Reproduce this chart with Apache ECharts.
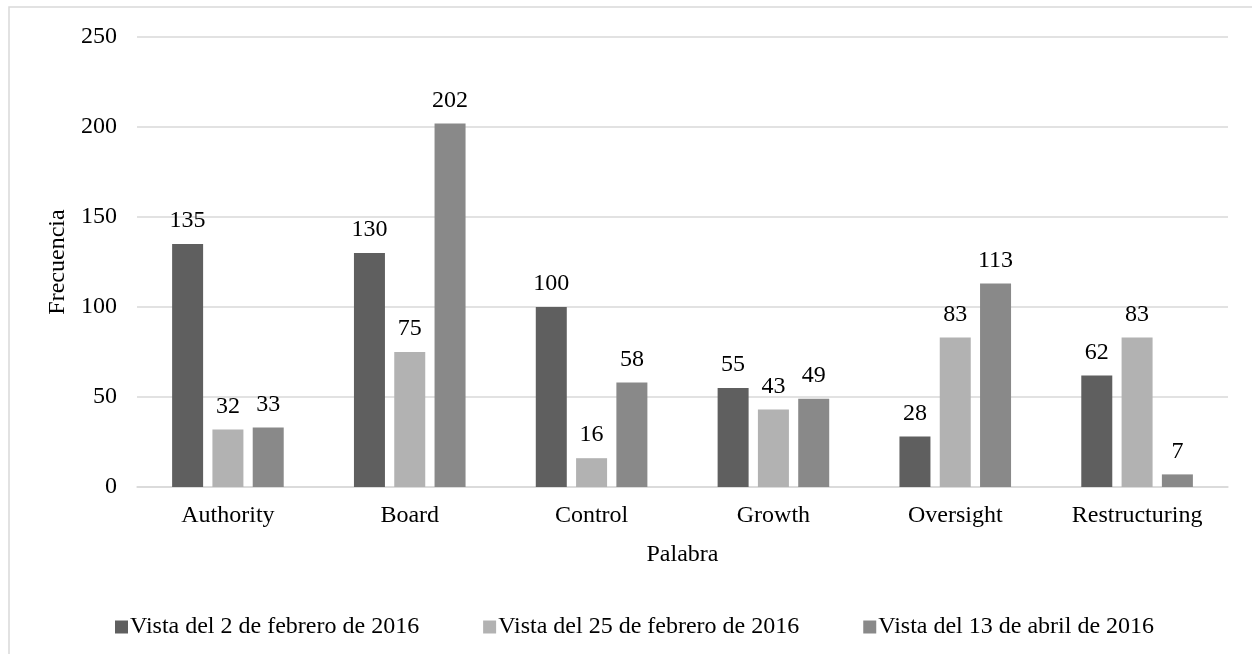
<!DOCTYPE html>
<html>
<head>
<meta charset="utf-8">
<script src="https://cdn.jsdelivr.net/npm/echarts@6/dist/echarts.min.js"></script>
<style>
  html, body { margin: 0; padding: 0; background: #fff; }
  #main { width: 1252px; height: 654px; }
</style>
</head>
<body>
<div id="main"></div>
<script>
const palabras = ['Authority', 'Board', 'Control', 'Growth', 'Oversight', 'Restructuring']
const vista2feb = [135, 130, 100, 55, 28, 62]
const vista25feb = [32, 75, 16, 43, 83, 83]
const vista13abr = [33, 202, 58, 49, 113, 7]
const nombres = ['Vista del 2 de febrero de 2016', 'Vista del 25 de febrero de 2016', 'Vista del 13 de abril de 2016']
const colores = ['#5f5f5f', '#b2b2b2', '#898989']

const fuente = 'Liberation Serif, Times New Roman, serif'
const tam = 24

let myChart = echarts.init(document.getElementById('main'))

function serie(nombre, datos, color) {
  return {
    name: nombre,
    type: 'bar',
    data: datos,
    barWidth: 31,
    barGap: '30%',
    itemStyle: { color: color },
    label: {
      show: true,
      position: 'top',
      distance: 11,
      color: '#000',
      fontFamily: fuente,
      fontSize: tam
    }
  }
}

myChart.setOption({
  animation: false,
  textStyle: { fontFamily: fuente },
  graphic: [{
    type: 'rect',
    shape: { x: 9, y: 7, width: 1300, height: 700 },
    style: { fill: 'none', stroke: '#d9d9d9', lineWidth: 1.5 },
    silent: true
  }],
  grid: { left: 137, right: 24, top: 37, bottom: 167 },
  legend: {
    bottom: 10,
    left: 110,
    icon: 'rect',
    itemWidth: 13,
    itemHeight: 13,
    itemGap: 64,
    textStyle: { fontFamily: fuente, fontSize: tam, color: '#000', padding: [0, 0, 0, -3] },
    data: nombres
  },
  xAxis: {
    type: 'category',
    data: palabras,
    name: 'Palabra',
    nameLocation: 'middle',
    nameGap: 56,
    nameTextStyle: { fontFamily: fuente, fontSize: tam, color: '#000' },
    axisLine: { lineStyle: { color: '#d9d9d9', width: 1.5 } },
    axisTick: { show: false },
    axisLabel: { margin: 17, color: '#000', fontFamily: fuente, fontSize: tam }
  },
  yAxis: {
    type: 'value',
    min: 0,
    max: 250,
    interval: 50,
    name: 'Frecuencia',
    nameLocation: 'middle',
    nameGap: 66,
    nameTextStyle: { fontFamily: fuente, fontSize: tam, color: '#000' },
    axisLine: { show: false },
    axisTick: { show: false },
    axisLabel: { margin: 20, color: '#000', fontFamily: fuente, fontSize: tam },
    splitLine: { lineStyle: { color: '#d9d9d9', width: 1.5 } }
  },
  series: [
    serie(nombres[0], vista2feb, colores[0]),
    serie(nombres[1], vista25feb, colores[1]),
    serie(nombres[2], vista13abr, colores[2])
  ]
})
</script>
</body>
</html>
